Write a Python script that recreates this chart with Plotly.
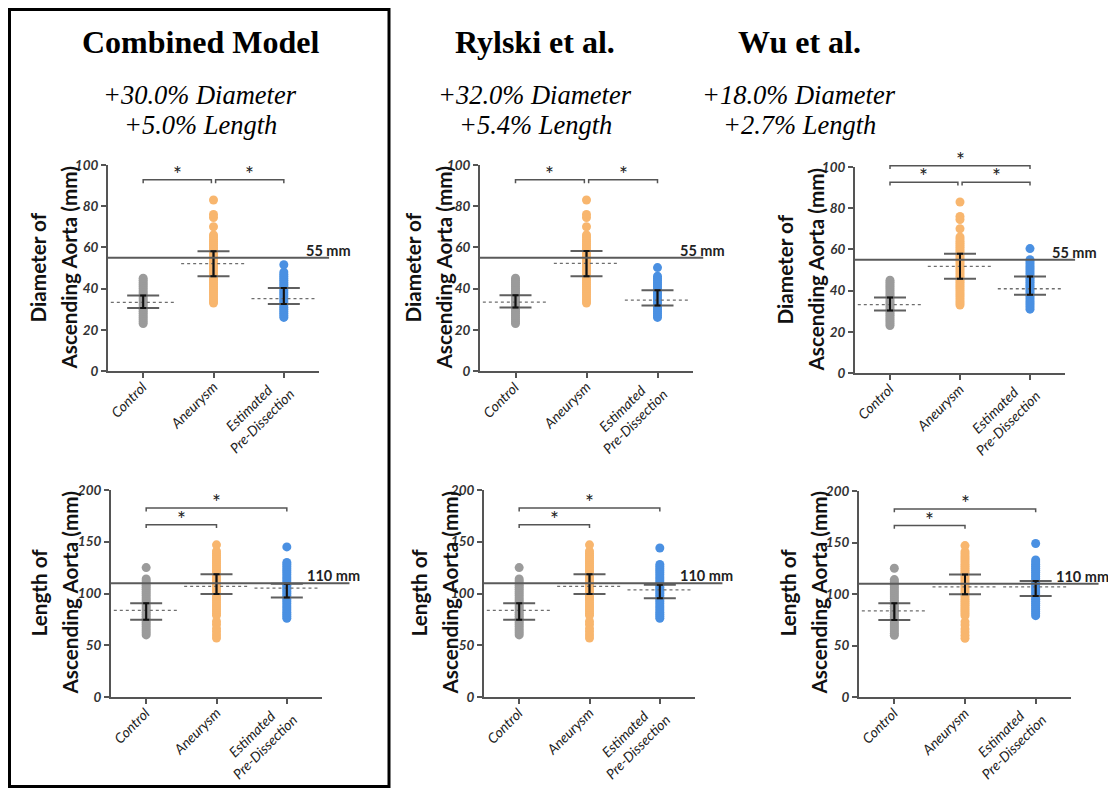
import plotly.graph_objects as go

# page is 1116x796; the html body has an 8px margin, so the figure is 1100x780
PAGE_W, PAGE_H = 1116, 796
OFF = 8
W, H = PAGE_W - 2 * OFF, PAGE_H - 2 * OFF


def fx(p):
    return (p - OFF) / W


def fy(p):
    return 1 - (p - OFF) / H


# ---------------- data ----------------
categories = ["Control", "Aneurysm", "Estimated<br>Pre-Dissection"]
model_names = ["Combined Model", "Rylski et al.", "Wu et al."]
diameter_change = ["+30.0% Diameter", "+32.0% Diameter", "+18.0% Diameter"]
length_change = ["+5.0% Length", "+5.4% Length", "+2.7% Length"]

# Diameter (mm) individual values
control_diameter = [23, 24, 25, 26, 27, 28, 29, 30, 31, 32, 33, 34, 35, 36, 37, 38,
                    39, 40, 41, 42, 43, 44, 45]
aneurysm_diameter = [33, 34, 35, 36, 37, 38, 39, 40, 41, 42, 43, 44, 45, 46, 47, 48,
                     49, 50, 51, 52, 53, 54, 55, 56, 57, 58, 59, 60, 61, 62, 63, 64,
                     65, 66, 70, 74.5, 76, 83]
combined_est_diameter = [26, 27, 28, 29, 30, 31, 32, 33, 34, 35, 36, 37, 38, 39, 40,
                         41, 42, 43, 44, 45, 46, 47, 48, 51.6]
rylski_est_diameter = [26, 27, 28, 29, 30, 31, 32, 33, 34, 35, 36, 37, 38, 39, 40,
                       41, 42, 43, 44, 45, 46, 50.2]
wu_est_diameter = [31, 32, 33, 34, 35, 36, 37, 38, 39, 40, 41, 42, 43, 44, 45, 46,
                   47, 48, 49, 50, 51, 52, 53, 54, 55, 60.4]

# Length (mm) individual values
control_length = [60, 62, 64, 66, 68, 70, 72, 74, 76, 78, 80, 82, 84, 86, 88, 90, 92,
                  94, 96, 98, 100, 102, 104, 106, 108, 110, 112, 114, 125]
aneurysm_length = [57, 60, 63, 66, 70, 73, 79, 81, 83, 85, 87, 89, 91, 93, 95, 97, 99,
                   101, 103, 105, 107, 109, 111, 113, 115, 117, 119, 121, 123, 125,
                   127, 129, 131, 133, 135, 137, 139, 141, 147]
combined_est_length = [76, 78, 80, 82, 84, 86, 88, 90, 92, 94, 96, 98, 100, 102, 104,
                       106, 108, 110, 112, 114, 116, 118, 120, 122, 124, 126, 128,
                       130, 145]
rylski_est_length = [76, 78, 80, 82, 84, 86, 88, 90, 92, 94, 96, 98, 100, 102, 104,
                     106, 108, 110, 112, 114, 116, 118, 120, 122, 124, 126, 128, 144]
wu_est_length = [79, 81, 83, 85, 87, 89, 91, 93, 95, 97, 99, 101, 103, 105, 107, 109,
                 111, 113, 115, 117, 119, 121, 123, 125, 127, 129, 131, 133, 149]

# Summary lines: lower bar, centre (dotted) and upper bar for Control, Aneurysm, Estimated
combined_diam_low = [30.6, 46.0, 32.5]
combined_diam_mid = [33.3, 52.1, 35.1]
combined_diam_high = [36.7, 58.1, 40.3]
rylski_diam_low = [30.8, 46.0, 31.8]
rylski_diam_mid = [33.4, 52.2, 34.4]
rylski_diam_high = [36.8, 58.2, 39.2]
wu_diam_low = [30.4, 45.8, 38.0]
wu_diam_mid = [33.2, 51.8, 40.9]
wu_diam_high = [36.7, 57.9, 46.9]

combined_len_low = [74.6, 99.4, 96.1]
combined_len_mid = [83.6, 106.8, 105.1]
combined_len_high = [90.7, 118.6, 109.3]
rylski_len_low = [74.6, 99.4, 95.5]
rylski_len_mid = [83.6, 106.8, 103.5]
rylski_len_high = [90.7, 118.6, 108.4]
wu_len_low = [74.8, 99.7, 98.1]
wu_len_mid = [83.6, 107.0, 107.0]
wu_len_high = [91.0, 119.0, 112.6]

# Significance brackets: (from group, to group, level in mm)
combined_diam_sig = [(0, 1, 92.8), (1, 2, 92.8)]
rylski_diam_sig = [(0, 1, 92.8), (1, 2, 92.8)]
wu_diam_sig = [(0, 1, 92.6), (1, 2, 92.6), (0, 2, 100.6)]
length_sig = [(0, 1, 166.5), (0, 2, 182.5)]

diameter_threshold = 55
length_threshold = 110

# ---------------- styling / layout ----------------
dot_colors = ["#9b9b9b", "#f8b66e", "#4a90e2"]
AX = "#555555"
SANS = "Lato"
SERIF = "Liberation Serif"

# panel boxes in page pixels (x0, x1, y_top, y_bottom)
boxes = [(108, 319, 165, 371), (480, 693, 165, 371), (855, 1065, 167, 373),
         (111, 322, 490, 697), (484, 695, 490, 697), (859, 1071, 491, 697)]
ytitle_pos = [(53, 268), (428, 268), (800, 270), (54, 593), (434, 593), (803, 593)]
col_centers = [200, 535, 799]

panels = [
    dict(vals=[control_diameter, aneurysm_diameter, combined_est_diameter],
         low=combined_diam_low, mid=combined_diam_mid, high=combined_diam_high,
         sig=combined_diam_sig, ymax=100, dtick=20, thr=diameter_threshold,
         title=["Diameter of", "Ascending Aorta (mm)"], ext=1.048, lab=1.16),
    dict(vals=[control_diameter, aneurysm_diameter, rylski_est_diameter],
         low=rylski_diam_low, mid=rylski_diam_mid, high=rylski_diam_high,
         sig=rylski_diam_sig, ymax=100, dtick=20, thr=diameter_threshold,
         title=["Diameter of", "Ascending Aorta (mm)"], ext=1.048, lab=1.16),
    dict(vals=[control_diameter, aneurysm_diameter, wu_est_diameter],
         low=wu_diam_low, mid=wu_diam_mid, high=wu_diam_high,
         sig=wu_diam_sig, ymax=100, dtick=20, thr=diameter_threshold,
         title=["Diameter of", "Ascending Aorta (mm)"], ext=1.048, lab=1.16),
    dict(vals=[control_length, aneurysm_length, combined_est_length],
         low=combined_len_low, mid=combined_len_mid, high=combined_len_high,
         sig=length_sig, ymax=200, dtick=50, thr=length_threshold,
         title=["Length of", "Ascending Aorta (mm)"], ext=1.13, lab=1.19),
    dict(vals=[control_length, aneurysm_length, rylski_est_length],
         low=rylski_len_low, mid=rylski_len_mid, high=rylski_len_high,
         sig=length_sig, ymax=200, dtick=50, thr=length_threshold,
         title=["Length of", "Ascending Aorta (mm)"], ext=1.13, lab=1.19),
    dict(vals=[control_length, aneurysm_length, wu_est_length],
         low=wu_len_low, mid=wu_len_mid, high=wu_len_high,
         sig=length_sig, ymax=200, dtick=50, thr=length_threshold,
         title=["Length of", "Ascending Aorta (mm)"], ext=1.13, lab=1.19),
]

fig = go.Figure()
shapes = []
annotations = []
layout_axes = {}

for k, p in enumerate(panels):
    n = k + 1
    xs = "x" if n == 1 else f"x{n}"
    ys = "y" if n == 1 else f"y{n}"
    x0, x1, yt, yb = boxes[k]

    # dots
    for i, vals in enumerate(p["vals"]):
        fig.add_trace(go.Scatter(
            x=[i] * len(vals), y=vals, mode="markers", xaxis=xs, yaxis=ys,
            marker=dict(size=9, color=dot_colors[i], line=dict(width=0)),
            showlegend=False, hoverinfo="skip", cliponaxis=False))

    # dotted centre lines
    dx, dy = [], []
    for i, m in enumerate(p["mid"]):
        dx += [i - 0.46, i + 0.46, None]
        dy += [m, m, None]
    fig.add_trace(go.Scatter(x=dx, y=dy, mode="lines", xaxis=xs, yaxis=ys,
                             line=dict(color="#6e6e6e", width=1.3, dash="dot"),
                             showlegend=False, hoverinfo="skip"))

    plus = [h - m for h, m in zip(p["high"], p["mid"])]
    minus = [m - l for m, l in zip(p["mid"], p["low"])]
    # wide grey bars
    fig.add_trace(go.Scatter(
        x=[0, 1, 2], y=p["mid"], mode="markers", xaxis=xs, yaxis=ys,
        marker=dict(size=1, opacity=0),
        error_y=dict(type="data", symmetric=False, array=plus, arrayminus=minus,
                     color="#5f5f5f", thickness=2, width=16),
        showlegend=False, hoverinfo="skip"))
    # black inner bar
    fig.add_trace(go.Scatter(
        x=[0, 1, 2], y=p["mid"], mode="markers", xaxis=xs, yaxis=ys,
        marker=dict(size=1, opacity=0),
        error_y=dict(type="data", symmetric=False, array=plus, arrayminus=minus,
                     color="#111111", thickness=2, width=3),
        showlegend=False, hoverinfo="skip"))

    xa = dict(domain=[fx(x0), fx(x1)], anchor=ys, range=[-0.5, 2.5],
              tickvals=[0, 1, 2], showticklabels=False,
              ticks="outside", ticklen=5, tickwidth=1.5, tickcolor=AX,
              showline=True, linecolor=AX, linewidth=2, showgrid=False,
              zeroline=False, fixedrange=True, automargin=False)
    ya = dict(domain=[fy(yb), fy(yt)], anchor=xs, range=[0, p["ymax"]],
              dtick=p["dtick"], ticks="outside", ticklen=5, tickwidth=1.5,
              tickcolor=AX, showline=True, linecolor=AX, linewidth=2,
              showgrid=False, zeroline=False, fixedrange=True, automargin=False,
              tickfont=dict(family=SANS, size=13.5, style="italic", weight="bold",
                            color="#333"))
    layout_axes["xaxis" if n == 1 else f"xaxis{n}"] = xa
    layout_axes["yaxis" if n == 1 else f"yaxis{n}"] = ya

    # rotated, centre-aligned category labels
    for i, lab in enumerate(categories):
        two = "<br>" in lab
        hh = 35 if two else 17
        annotations.append(dict(
            xref=xs, yref=f"{ys} domain", x=i, y=0, text=lab, textangle=-45,
            showarrow=False, xanchor="right", yanchor="top", align="center",
            borderpad=0, xshift=0.354 * hh + 2, yshift=0.354 * hh - 12,
            font=dict(family=SANS, size=14, style="italic", color="#222")))

    # threshold line + label
    shapes.append(dict(type="line", xref=f"{xs} domain", yref=ys, x0=0, x1=p["ext"],
                       y0=p["thr"], y1=p["thr"], line=dict(color="#5a5a5a", width=2)))
    annotations.append(dict(xref=f"{xs} domain", yref=ys, x=p["lab"],
                            y=p["thr"], xanchor="right", yanchor="bottom",
                            text=f"{p['thr']} mm", showarrow=False, yshift=-3,
                            font=dict(family=SANS, size=14.5, weight="bold", color="#222")))

    # significance brackets
    tick = 0.016
    has_right = any(s[0] == 1 for s in p["sig"])
    for a, b, lvl in p["sig"]:
        fa = a + (0.03 if a == 1 else 0)
        fb = b - (0.03 if (b == 1 and has_right) else 0)
        yy = lvl / p["ymax"]
        shapes.append(dict(type="path", xref=xs, yref=f"{ys} domain",
                           path=f"M {fa},{yy - tick} L {fa},{yy} L {fb},{yy} L {fb},{yy - tick}",
                           line=dict(color="#555", width=1.5)))
        annotations.append(dict(xref=xs, yref=f"{ys} domain", x=(fa + fb) / 2, y=yy,
                                text="*", showarrow=False, yanchor="bottom", yshift=-8,
                                font=dict(family=SANS, size=21, color="#222")))

    # y title (two lines, placed separately for the original line spacing)
    tx, ty = ytitle_pos[k]
    for j, line in enumerate(p["title"]):
        annotations.append(dict(xref="paper", yref="paper", x=fx(tx - 15.5 + 31 * j),
                                y=fy(ty), text=line, textangle=-90, showarrow=False,
                                xanchor="center", yanchor="middle",
                                font=dict(family=SANS, size=20.7, weight="bold",
                                          color="#111")))

# column titles
for c in range(3):
    annotations.append(dict(xref="paper", yref="paper", x=fx(col_centers[c]),
                            y=fy(42), text=model_names[c], showarrow=False,
                            xanchor="center", yanchor="middle",
                            font=dict(family=SERIF, size=32, weight="bold", color="#000")))
    annotations.append(dict(xref="paper", yref="paper", x=fx(col_centers[c]),
                            y=fy(95), text=diameter_change[c],
                            showarrow=False, xanchor="center", yanchor="middle",
                            font=dict(family=SERIF, size=26.5, style="italic", color="#000")))
    annotations.append(dict(xref="paper", yref="paper", x=fx(col_centers[c]),
                            y=fy(125), text=length_change[c],
                            showarrow=False, xanchor="center", yanchor="middle",
                            font=dict(family=SERIF, size=26.5, style="italic", color="#000")))

# frame around the first column
shapes.append(dict(type="rect", xref="paper", yref="paper", x0=fx(9.5), x1=fx(389),
                   y0=fy(786.5), y1=fy(9.5), line=dict(color="#000", width=3)))

fig.update_layout(template="none", width=W, height=H, autosize=False,
                  margin=dict(l=0, r=0, t=0, b=0, pad=0, autoexpand=False),
                  paper_bgcolor="white", plot_bgcolor="white",
                  showlegend=False, shapes=shapes, annotations=annotations,
                  **layout_axes)

fig.write_html("out.html")
